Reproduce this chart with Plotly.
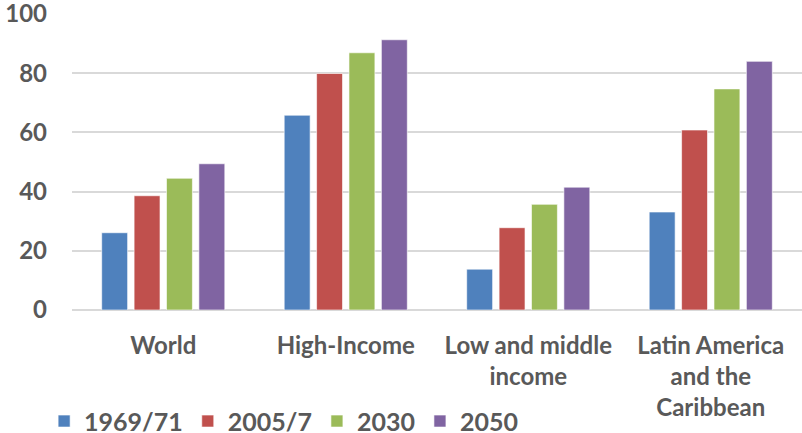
import plotly.graph_objects as go

categories = ["World", "High-Income", "Low and middle<br>income",
              "Latin America<br>and the<br>Caribbean"]
series_names = ["1969/71", "2005/7", "2030", "2050"]
values_1969 = [26.1, 65.8, 13.8, 33.1]
values_2005 = [38.6, 79.9, 27.8, 60.8]
values_2030 = [44.5, 86.9, 35.7, 74.7]
values_2050 = [49.4, 91.3, 41.5, 84.0]
colors = ["#4F81BD", "#C0504D", "#9BBB59", "#8064A2"]
y_ticks = [0, 20, 40, 60, 80, 100]

font_family = "Lato, 'Open Sans', sans-serif"
grey = "#595959"

fig = go.Figure()
for name, vals, col in zip(series_names,
                           [values_1969, values_2005, values_2030, values_2050],
                           colors):
    fig.add_trace(go.Bar(
        name=name, x=categories, y=vals,
        marker=dict(color=col, line=dict(color="rgba(255,255,255,0.6)", width=1)),
    ))

fig.update_layout(
    width=802, height=433,
    margin=dict(l=72, r=0, t=14, b=123, autoexpand=False),
    barmode="group", bargap=0.29, bargroupgap=0.2,
    plot_bgcolor="white", paper_bgcolor="white",
    font=dict(family=font_family, color=grey),
    showlegend=True,
    legend=dict(
        orientation="h", xref="container", yref="container",
        x=0.055, y=0.027, xanchor="left", yanchor="middle",
        font=dict(size=25, family=font_family, color=grey, weight="bold"),
        itemwidth=30, tracegroupgap=0,
    ),
)
fig.update_xaxes(
    automargin=False,
    showgrid=False, showline=False, ticks="", ticklabelstandoff=19,
    tickfont=dict(size=24, family=font_family, color=grey, weight="bold"),
)
fig.update_yaxes(
    automargin=False, ticklabeloverflow="allow",
    range=[0, 100], tickvals=y_ticks,
    showgrid=True, gridcolor="#D9D9D9", gridwidth=1.5,
    zeroline=True, zerolinecolor="#D9D9D9", zerolinewidth=1.5,
    showline=False, ticks="", ticklabelstandoff=24,
    tickfont=dict(size=24, family=font_family, color=grey, weight="bold"),
)

fig.write_html("out.html")
